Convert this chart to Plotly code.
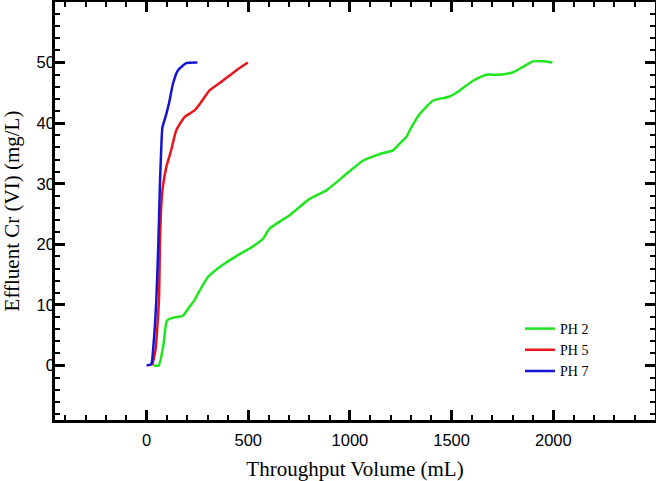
import plotly.graph_objects as go

# PH 2
ph2_x = [36, 60, 84, 100, 130, 179, 203, 236, 252, 302, 350, 392, 440, 490, 507, 572, 605, 703, 802, 884, 982, 1064, 1146, 1212, 1244, 1277, 1294, 1343, 1408, 1490, 1540, 1605, 1671, 1736, 1802, 1851, 1900, 1949, 1995]
ph2_y = [0, 0, 3.6, 7.4, 7.9, 8.2, 9.3, 10.8, 11.8, 14.6, 16.0, 17.0, 18.0, 19.0, 19.3, 20.9, 22.6, 24.8, 27.5, 28.9, 31.6, 33.8, 34.9, 35.5, 36.6, 37.7, 38.8, 41.5, 43.7, 44.4, 45.4, 47.0, 48.0, 48.0, 48.4, 49.3, 50.2, 50.2, 50.0]

# PH 5
ph5_x = [28, 44, 61, 66, 72, 80, 97, 121, 146, 187, 236, 269, 310, 375, 441, 498]
ph5_y = [0, 2.5, 10.7, 20, 26, 29.4, 32.7, 35.5, 38.8, 41.0, 42.1, 43.5, 45.4, 47.0, 48.7, 50.0]

# PH 7
ph7_x = [0, 23, 34, 48, 58, 66, 72, 78, 93, 110, 130, 154, 195, 250]
ph7_y = [0, 0.2, 3.3, 10.7, 20, 30, 35.5, 39.3, 41.0, 43.2, 46.5, 48.7, 49.9, 50.0]

x_ticks = [0, 500, 1000, 1500, 2000]
y_ticks = [0, 10, 20, 30, 40, 50]

fig = go.Figure()
series = [("PH 2", ph2_x, ph2_y, "#1fe51f"),
          ("PH 5", ph5_x, ph5_y, "#e8141c"),
          ("PH 7", ph7_x, ph7_y, "#1414d2")]
for name, xs, ys, c in series:
    fig.add_trace(go.Scatter(x=xs, y=ys, name=name, mode="lines",
                             line=dict(color=c, width=2.5, shape="spline", smoothing=0.5)))

axis_common = dict(
    showline=True, linecolor="black", linewidth=2.5, mirror="allticks",
    ticks="inside", ticklen=10, tickwidth=2.5, tickcolor="black",
    showgrid=False, zeroline=False, automargin=False,
    tickfont=dict(family="Liberation Sans, Arial, sans-serif", size=16.5, color="black"),
)

title_font = dict(family="Liberation Serif, Times New Roman, serif", size=21, color="black")

fig.update_xaxes(
    range=[-450, 2500], tickmode="array", tickvals=x_ticks,
    minor=dict(tickmode="linear", tick0=0, dtick=100, ticks="inside", ticklen=5, tickwidth=1.5, tickcolor="black"),
    title=dict(text="Throughput Volume (mL)", font=title_font, standoff=15),
    ticklabelstandoff=3,
    **axis_common)
fig.update_yaxes(
    range=[-9, 60], tickmode="array", tickvals=y_ticks,
    minor=dict(tickmode="linear", tick0=0, dtick=2, ticks="inside", ticklen=5, tickwidth=1.5, tickcolor="black"),
    title=dict(text="Effluent Cr (VI) (mg/L)", font=title_font, standoff=14),
    ticklabelstandoff=-6,
    **axis_common)

fig.update_layout(
    width=656, height=481,
    margin=dict(l=55, r=1, t=2, b=61),
    plot_bgcolor="white", paper_bgcolor="white",
    showlegend=True,
    legend=dict(x=0.775, y=0.256, xanchor="left", yanchor="top",
                bgcolor="rgba(0,0,0,0)",
                font=dict(family="Liberation Serif, Times New Roman, serif", size=14, color="black"),
                tracegroupgap=0),
)

fig.write_html("out.html", config={"displayModeBar": False},
               post_script="document.body.style.margin='0px';")
